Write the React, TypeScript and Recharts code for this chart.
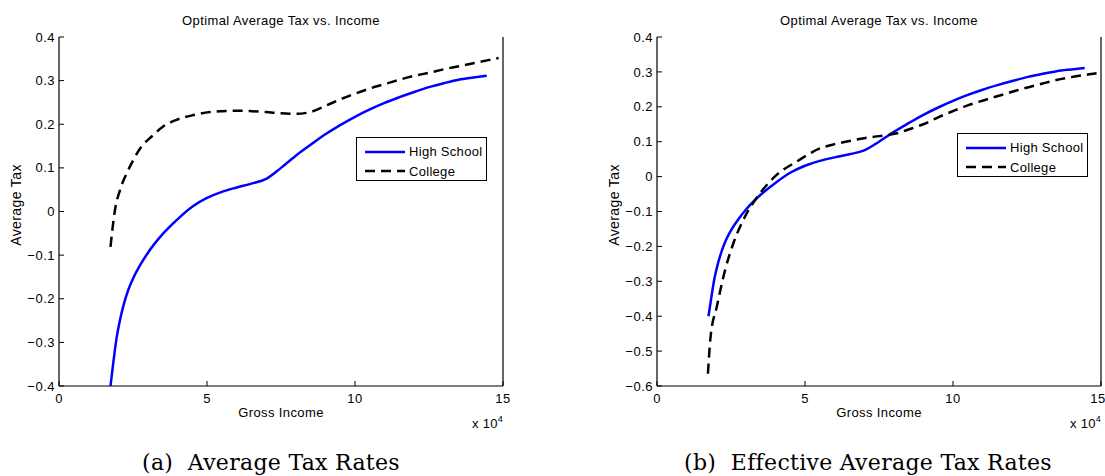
import React from 'react';
import { LineChart, Line, XAxis, YAxis, Legend } from 'recharts';

// income in units of 10^4, tax as a fraction
const xTicks = [0, 5, 10, 15];
const yTicksOptimal = [-0.4, -0.3, -0.2, -0.1, 0, 0.1, 0.2, 0.3, 0.4];
const yTicksEffective = [-0.6, -0.5, -0.4, -0.3, -0.2, -0.1, 0, 0.1, 0.2, 0.3, 0.4];

const highSchool = [
  { income: 1.74, tax: -0.4 },
  { income: 1.85, tax: -0.338 },
  { income: 1.95, tax: -0.288 },
  { income: 2.05, tax: -0.252 },
  { income: 2.2, tax: -0.21 },
  { income: 2.35, tax: -0.178 },
  { income: 2.5, tax: -0.154 },
  { income: 2.75, tax: -0.122 },
  { income: 3.0, tax: -0.095 },
  { income: 3.5, tax: -0.052 },
  { income: 4.0, tax: -0.018 },
  { income: 4.5, tax: 0.011 },
  { income: 5.0, tax: 0.031 },
  { income: 5.5, tax: 0.045 },
  { income: 6.0, tax: 0.055 },
  { income: 6.5, tax: 0.064 },
  { income: 7.0, tax: 0.075 },
  { income: 7.5, tax: 0.1 },
  { income: 8.0, tax: 0.128 },
  { income: 8.5, tax: 0.153 },
  { income: 9.0, tax: 0.177 },
  { income: 9.5, tax: 0.198 },
  { income: 10.0, tax: 0.217 },
  { income: 10.5, tax: 0.234 },
  { income: 11.0, tax: 0.249 },
  { income: 11.5, tax: 0.262 },
  { income: 12.0, tax: 0.274 },
  { income: 12.5, tax: 0.285 },
  { income: 13.0, tax: 0.294 },
  { income: 13.5, tax: 0.302 },
  { income: 14.0, tax: 0.307 },
  { income: 14.45, tax: 0.311 },
];

const collegeOptimal = [
  { income: 1.74, tax: -0.081 },
  { income: 1.89, tax: 0.003 },
  { income: 2.06, tax: 0.049 },
  { income: 2.29, tax: 0.088 },
  { income: 2.51, tax: 0.118 },
  { income: 2.79, tax: 0.149 },
  { income: 3.13, tax: 0.172 },
  { income: 3.52, tax: 0.195 },
  { income: 3.97, tax: 0.21 },
  { income: 4.54, tax: 0.221 },
  { income: 5.1, tax: 0.228 },
  { income: 5.5, tax: 0.23 },
  { income: 6.0, tax: 0.231 },
  { income: 6.5, tax: 0.23 },
  { income: 7.0, tax: 0.228 },
  { income: 7.5, tax: 0.225 },
  { income: 8.0, tax: 0.224 },
  { income: 8.5, tax: 0.228 },
  { income: 9.0, tax: 0.242 },
  { income: 9.5, tax: 0.257 },
  { income: 10.0, tax: 0.27 },
  { income: 10.5, tax: 0.282 },
  { income: 11.0, tax: 0.292 },
  { income: 11.5, tax: 0.302 },
  { income: 12.0, tax: 0.311 },
  { income: 12.5, tax: 0.318 },
  { income: 13.0, tax: 0.326 },
  { income: 13.5, tax: 0.333 },
  { income: 14.0, tax: 0.34 },
  { income: 14.5, tax: 0.347 },
  { income: 14.85, tax: 0.352 },
];

const collegeEffective = [
  { income: 1.72, tax: -0.565 },
  { income: 1.81, tax: -0.459 },
  { income: 2.02, tax: -0.373 },
  { income: 2.3, tax: -0.268 },
  { income: 2.58, tax: -0.191 },
  { income: 2.97, tax: -0.115 },
  { income: 3.48, tax: -0.048 },
  { income: 4.04, tax: 0.005 },
  { income: 4.72, tax: 0.043 },
  { income: 5.51, tax: 0.081 },
  { income: 6.0, tax: 0.093 },
  { income: 6.5, tax: 0.102 },
  { income: 7.0, tax: 0.11 },
  { income: 7.5, tax: 0.116 },
  { income: 8.1, tax: 0.124 },
  { income: 8.5, tax: 0.135 },
  { income: 9.0, tax: 0.15 },
  { income: 9.5, tax: 0.17 },
  { income: 10.1, tax: 0.191 },
  { income: 10.5, tax: 0.204 },
  { income: 11.25, tax: 0.224 },
  { income: 12.0, tax: 0.243 },
  { income: 12.4, tax: 0.253 },
  { income: 13.0, tax: 0.266 },
  { income: 13.5, tax: 0.277 },
  { income: 14.0, tax: 0.285 },
  { income: 14.6, tax: 0.293 },
  { income: 14.85, tax: 0.296 },
];

const FONT = '"Liberation Sans", Arial, sans-serif';
const TICK = { fontSize: 13, fill: '#000', fontFamily: FONT, letterSpacing: 0.5 };
const BLUE = '#0000ff';
const DASH = '10 6';

const fmtY = (v: number) => {
  if (Math.abs(v) < 1e-9) return '0';
  return (v < 0 ? '\u2212' : '') + Math.abs(v).toFixed(1);
};

function LegendBox() {
  const row = (label: string, color: string, dash?: string) => (
    <div style={{ display: 'flex', alignItems: 'center', height: 19.5 }}>
      <svg width={40} height={10} style={{ marginLeft: 8 }}>
        <line x1={0} y1={5} x2={40} y2={5} stroke={color} strokeWidth={2.4} strokeDasharray={dash} />
      </svg>
      <span style={{ marginLeft: 4, fontSize: 13, fontFamily: FONT, color: '#000', letterSpacing: 0.3 }}>{label}</span>
    </div>
  );
  return (
    <div style={{ border: '1px solid #000', background: '#fff', width: 131, height: 44, paddingTop: 4, boxSizing: 'border-box' }}>
      {row('High School', BLUE)}
      {row('College', '#000', DASH)}
    </div>
  );
}

interface PanelProps {
  left: number;
  width: number;
  rightAxisWidth: number;
  title: string;
  caption: string;
  yDomain: [number, number];
  yTicks: number[];
  college: { income: number; tax: number }[];
  legendPos: { left: number; top: number };
  captionX: number;
}

function Panel({ left, width, rightAxisWidth, title, caption, yDomain, yTicks, college, legendPos, captionX }: PanelProps) {
  const plotLeft = 59;
  const plotRight = width - rightAxisWidth;
  const plotMid = (plotLeft + plotRight) / 2;
  return (
    <div style={{ position: 'absolute', left, top: 0, width, height: 476, fontFamily: FONT }}>
      <LineChart width={width} height={476} margin={{ top: 37, right: 0, bottom: 0, left: 0 }}>
        <XAxis
          dataKey="income"
          type="number"
          domain={[0, 15]}
          ticks={xTicks}
          height={90}
          tickSize={-5}
          tickMargin={13}
          tick={TICK}
          axisLine={{ stroke: '#000', strokeWidth: 1.2 }}
          tickLine={{ stroke: '#000' }}
          allowDataOverflow
          label={{ value: 'Gross Income', position: 'insideTop', offset: 22, fill: '#000', fontSize: 13, fontFamily: FONT, style: { letterSpacing: 0.4 } }}
        />
        <XAxis
          xAxisId="top"
          orientation="top"
          dataKey="income"
          type="number"
          domain={[0, 15]}
          ticks={xTicks}
          height={0}
          tickSize={-5}
          tick={false}
          axisLine={{ stroke: '#000', strokeWidth: 1.2 }}
          tickLine={{ stroke: '#000' }}
          allowDataOverflow
        />
        <YAxis
          type="number"
          domain={yDomain}
          ticks={yTicks}
          width={plotLeft}
          tickSize={-5}
          tickMargin={9}
          tick={TICK}
          tickFormatter={fmtY}
          axisLine={{ stroke: '#000', strokeWidth: 1.2 }}
          tickLine={{ stroke: '#000' }}
          allowDataOverflow
        />
        <YAxis
          yAxisId="right"
          orientation="right"
          type="number"
          domain={yDomain}
          ticks={yTicks}
          width={rightAxisWidth}
          tickSize={-5}
          tick={false}
          axisLine={{ stroke: '#000', strokeWidth: 1.2 }}
          tickLine={{ stroke: '#000' }}
          allowDataOverflow
        />
        <Legend
          layout="horizontal"
          verticalAlign="middle"
          align="center"
          wrapperStyle={{ left: legendPos.left, top: legendPos.top, width: 131, height: 44 }}
          content={() => <LegendBox />}
        />
        <Line
          data={highSchool}
          dataKey="tax"
          name="High School"
          type="monotone"
          stroke={BLUE}
          strokeWidth={2.5}
          dot={false}
          activeDot={false}
          isAnimationActive={false}
        />
        <Line
          data={college}
          dataKey="tax"
          name="College"
          type="monotone"
          stroke="#000"
          strokeWidth={2.5}
          strokeDasharray={DASH}
          dot={false}
          activeDot={false}
          isAnimationActive={false}
        />
      </LineChart>
      <div style={{ position: 'absolute', left: plotMid, top: 20, transform: 'translate(-50%, -50%)', fontSize: 13, letterSpacing: 0.4, whiteSpace: 'nowrap', lineHeight: 1 }}>
        {title}
      </div>
      <div style={{ position: 'absolute', left: 16, top: 205, transform: 'translate(-50%, -50%) rotate(-90deg)', fontSize: 14, letterSpacing: 0.4, whiteSpace: 'nowrap', lineHeight: 1 }}>
        Average Tax
      </div>
      <div style={{ position: 'absolute', left: plotRight - 31, top: 415, fontSize: 13, letterSpacing: 0.3, whiteSpace: 'nowrap', lineHeight: 1 }}>
        x 10<sup style={{ fontSize: 9, verticalAlign: 6 }}>4</sup>
      </div>
      <div style={{ position: 'absolute', left: captionX, top: 463, transform: 'translate(-50%, -50%)', fontSize: 22, letterSpacing: 0.3, fontFamily: '"DejaVu Serif", serif', whiteSpace: 'pre', lineHeight: 1 }}>
        {caption}
      </div>
    </div>
  );
}

export default function App() {
  return (
    <div style={{ position: 'absolute', left: 0, top: 0, width: 1105, height: 476, overflow: 'hidden', background: '#fff' }}>
      <Panel
        left={0}
        width={550}
        rightAxisWidth={47}
        title="Optimal Average Tax vs. Income"
        caption="(a)  Average Tax Rates"
        yDomain={[-0.4, 0.4]}
        yTicks={yTicksOptimal}
        college={collegeOptimal}
        legendPos={{ left: 356, top: 137 }}
        captionX={271}
      />
      <Panel
        left={598}
        width={507}
        rightAxisWidth={4}
        title="Optimal Average Tax vs. Income"
        caption="(b)  Effective Average Tax Rates"
        yDomain={[-0.6, 0.4]}
        yTicks={yTicksEffective}
        college={collegeEffective}
        legendPos={{ left: 359, top: 133 }}
        captionX={270}
      />
    </div>
  );
}
